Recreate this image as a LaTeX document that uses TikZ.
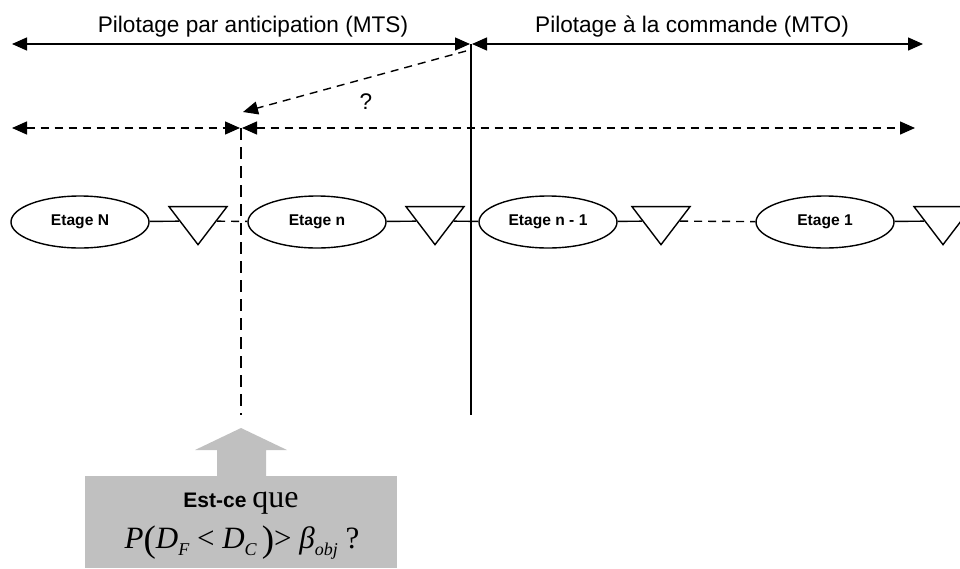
\documentclass[tikz,border=0pt]{standalone}
\usepackage{fontspec}
\setmainfont{Liberation Sans}
\newfontfamily\timesfont{Liberation Serif}
\usepackage{amsmath}
\usepackage{tikz}
\usetikzlibrary{positioning,arrows.meta,shapes.geometric}

\definecolor{boxgray}{RGB}{192,192,192}
\newcommand\lowsub[1]{\raisebox{-7pt}{\fontsize{18}{20}\selectfont\itshape #1}}
\newcommand\tallparen[1]{\raisebox{-3pt}{\fontsize{37}{37}\selectfont\upshape #1}}

\tikzset{
    lw/.style={line width=1.4pt},
    etage/.style={draw, ellipse, lw, minimum width=138pt, minimum height=52pt, inner sep=0pt,
        font=\fontsize{15.6}{18}\selectfont\bfseries},
    stock/.style={draw, isosceles triangle, isosceles triangle stretches, shape border rotate=-90,
        minimum width=58pt, minimum height=38pt, inner sep=0pt, lw},
    link/.style={lw},
    dlink/.style={lw, dash pattern=on 8pt off 6pt},
    span/.style={lw, {Triangle[length=15pt,width=13pt]}-{Triangle[length=15pt,width=13pt]}},
    dspan/.style={span, dash pattern=on 8pt off 6pt},
    bigtext/.style={font=\fontsize{22.6}{27}\selectfont, inner sep=0pt, anchor=base},
}

\begin{document}
\begin{tikzpicture}[x=1pt, y=-1pt]
    \useasboundingbox (0,0) rectangle (960,568);

    % horizons
    \coordinate (topL) at (12,44);
    \coordinate (topM) at (471,44);
    \coordinate (topR) at (923,44);
    \coordinate (vbot) at (471,415);
    \coordinate (midL) at (12,128);
    \coordinate (cut) at (241,128);
    \coordinate (midR) at (915,128);
    \coordinate (cutbot) at (241,415);
    \coordinate (qstart) at (466,51);
    \coordinate (qend) at (243,112);

    \node[bigtext] (mts) at (253,32) {Pilotage par anticipation (MTS)};
    \node[bigtext] (mto) at (692,32) {Pilotage à la commande (MTO)};
    \node[bigtext] (qm) at (366,109) {?};

    \draw[span] (topL) -- ([xshift=-1pt]topM);
    \draw[span] ([xshift=1pt]topM) -- (topR);
    \draw[link] (topM) -- (vbot);

    \draw[dspan] (midL) -- ([xshift=-1pt]cut);
    \draw[dspan] ([xshift=1pt]cut) -- (midR);
    \draw[lw, dash pattern=on 12pt off 7pt] (cut) -- (cutbot);
    \draw[dlink, -{Triangle[length=15pt,width=13pt]}] (qstart) -- (qend);

    % etages
    \node[etage] (eN) at (80,222) {Etage N};
    \node[stock] (t1) at (198,221) {};
    \node[etage] (en) at (317,222) {Etage n};
    \node[stock] (t2) at (435,221) {};
    \node[etage] (en1) at (548,222) {Etage n - 1};
    \node[stock] (t3) at (661,221) {};
    \node[etage] (e1) at (825,222) {Etage 1};
    \node[stock] (t4) at (943,221) {};

    \draw[link] (eN) -- (t1);
    \draw[dlink] (t1) -- (en);
    \draw[link] (en) -- (t2);
    \draw[link] (t2) -- (en1);
    \draw[link] (en1) -- (t3);
    \draw[dlink] (t3) -- (e1);
    \draw[link] (e1) -- (t4);

    % question
    \node[fill=boxgray, minimum width=312pt, minimum height=92pt, inner sep=0pt] (q) at (241,522) {};
    \fill[boxgray] (217,477) -- (217,450) -- (195,450) -- (241,428) -- (287,450) -- (266,450) -- (266,477) -- cycle;
    \node[anchor=base, inner sep=0pt] (qa) at (241,507)
        {\fontsize{21}{25}\selectfont\bfseries Est-ce \mdseries\timesfont\fontsize{32}{36}\selectfont que};
    \node[anchor=base, inner sep=0pt] (qb) at (242,548)
        {\timesfont\fontsize{31}{36}\selectfont\textit{P}\tallparen{(}\textit{D}\lowsub{F} < \textit{D}\lowsub{C}\,\tallparen{)}> \textit{β}\lowsub{obj} ?};
\end{tikzpicture}
\end{document}
